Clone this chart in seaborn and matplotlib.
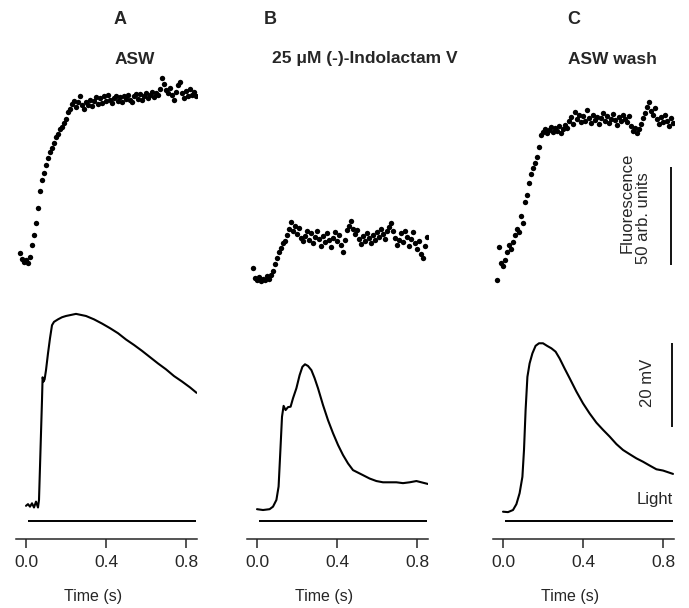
import numpy as np
import pandas as pd
import matplotlib
matplotlib.use("Agg")
import matplotlib.pyplot as plt
import seaborn as sns

# ---- data ----
panel_letters = ["A", "B", "C"]
panel_titles = ["ASW", "25 \u03bcM (-)-Indolactam V", "ASW wash"]

# fluorescence (arb. units), sampled every 10 ms from the start time
fluo_start = [-0.03, -0.02, -0.03]
fluo_a = [2.6, -0.5, -2.0, -1.0, -2.5, 0.5, 6.5, 11.5, 18.0, 25.5, 34.0, 40.0, 43.5,
          47.5, 51.0, 54.0, 56.0, 58.5, 61.5, 63.0, 66.0, 67.0, 69.0, 71.0, 74.5, 76.0,
          78.5, 80.0, 77.0, 79.5, 82.5, 78.0, 76.0, 79.5, 78.0, 80.5, 77.5, 80.0, 82.0,
          78.5, 81.5, 79.0, 82.5, 80.0, 83.0, 80.5, 79.0, 81.5, 82.5, 80.0, 82.0, 79.5,
          82.5, 81.0, 83.0, 80.5, 79.5, 82.5, 83.5, 81.0, 83.5, 80.5, 82.5, 84.0, 81.5,
          83.0, 84.5, 82.0, 84.0, 83.0, 86.0, 92.0, 88.5, 85.5, 84.0, 86.5, 83.0, 80.5,
          84.5, 88.0, 90.0, 84.0, 81.5, 85.0, 82.5, 86.0, 83.0, 84.5, 82.5]
fluo_b = [-5.0, -10.0, -11.5, -9.5, -12.0, -10.5, -11.0, -9.0, -10.5, -8.5, -6.5, -3.0,
          0.0, 3.0, 5.0, 7.5, 8.5, 11.5, 15.0, 18.5, 14.0, 16.5, 12.0, 15.5, 10.0, 8.5,
          11.0, 13.5, 9.0, 12.5, 7.5, 10.5, 14.0, 9.5, 6.0, 11.0, 8.0, 12.5, 9.0, 5.5,
          10.0, 13.0, 8.5, 11.5, 6.5, 3.0, 9.0, 14.5, 16.5, 19.0, 15.0, 12.0, 14.5, 9.5,
          7.0, 11.0, 8.5, 12.5, 10.0, 7.5, 11.5, 9.0, 13.0, 10.5, 15.0, 12.0, 9.5, 14.0,
          16.0, 18.0, 13.5, 10.0, 6.5, 9.0, 12.5, 8.0, 14.0, 10.5, 6.0, 9.5, 13.0, 7.5,
          4.5, 8.5, 2.0, 0.0, 6.0, 10.5]
fluo_c = [-11.0, 5.5, -2.5, -4.0, -1.0, 3.0, 6.5, 4.5, 8.0, 11.5, 15.0, 13.0, 21.5, 18.0,
          28.5, 32.0, 38.0, 43.0, 46.0, 48.5, 51.5, 56.5, 62.5, 64.5, 66.0, 63.5, 65.5,
          67.0, 64.5, 66.5, 65.0, 67.5, 64.0, 66.0, 68.0, 66.5, 70.0, 72.0, 68.5, 74.5,
          71.0, 73.0, 69.5, 72.5, 70.0, 75.5, 71.5, 69.0, 73.0, 70.5, 72.0, 68.5, 71.5,
          74.0, 70.0, 72.5, 69.0, 71.0, 73.5, 70.5, 68.0, 72.0, 70.0, 73.0, 71.0, 69.5,
          72.5, 67.5, 65.0, 66.5, 64.0, 66.0, 68.5, 71.5, 74.0, 77.0, 79.5, 75.0, 73.0,
          76.5, 71.0, 68.5, 72.0, 69.5, 73.0, 70.0, 67.5, 71.5, 69.0]

# membrane voltage (mV)
volt_t_a = [0.0, 0.01, 0.02, 0.03, 0.04, 0.05, 0.06, 0.065, 0.07, 0.075, 0.08, 0.083,
            0.088, 0.093, 0.1, 0.11, 0.12, 0.13, 0.14, 0.16, 0.18, 0.2, 0.22, 0.25, 0.28,
            0.3, 0.34, 0.38, 0.42, 0.46, 0.5, 0.54, 0.58, 0.62, 0.66, 0.7, 0.74, 0.78,
            0.82, 0.853]
volt_a = [-0.1, 0.3, -0.3, 0.5, -0.5, 0.9, -0.5, 1.3, 9.2, 17.2, 25.1, 30.5, 29.5, 30.0,
          32.2, 36.2, 39.8, 42.9, 43.7, 44.3, 44.8, 45.1, 45.3, 45.6, 45.3, 45.1, 44.3,
          43.3, 42.2, 41.0, 39.5, 38.2, 36.8, 35.3, 33.8, 32.4, 30.8, 29.5, 28.1, 26.8]
volt_t_b = [0.0, 0.03, 0.063, 0.08, 0.097, 0.108, 0.117, 0.125, 0.133, 0.143, 0.155,
            0.168, 0.18, 0.197, 0.213, 0.227, 0.24, 0.255, 0.272, 0.288, 0.305, 0.33,
            0.355, 0.38, 0.405, 0.43, 0.455, 0.48, 0.505, 0.53, 0.563, 0.597, 0.63, 0.663,
            0.697, 0.73, 0.763, 0.797, 0.83, 0.855]
volt_b = [-0.9, -1.1, -0.9, -0.3, 1.3, 4.5, 13.2, 21.1, 23.7, 22.7, 23.4, 23.5, 25.5,
          27.9, 31.0, 33.0, 33.6, 33.2, 32.2, 30.3, 27.9, 23.9, 20.3, 17.2, 14.4, 12.0,
          10.0, 8.4, 7.8, 7.2, 6.4, 5.8, 5.5, 5.5, 5.5, 5.3, 5.5, 5.8, 5.4, 5.1]
volt_t_c = [0.0, 0.025, 0.05, 0.067, 0.083, 0.097, 0.105, 0.113, 0.122, 0.133, 0.147,
            0.163, 0.18, 0.2, 0.22, 0.242, 0.263, 0.283, 0.308, 0.333, 0.367, 0.4, 0.433,
            0.467, 0.5, 0.533, 0.567, 0.6, 0.633, 0.667, 0.7, 0.733, 0.767, 0.8, 0.825,
            0.85]
volt_c = [-1.5, -1.6, -1.1, 0.3, 2.9, 6.8, 13.2, 22.7, 30.6, 33.8, 36.2, 38.0, 38.6,
          38.6, 38.0, 37.4, 36.6, 35.0, 32.6, 30.3, 27.1, 24.3, 21.9, 19.7, 18.0, 16.4,
          14.6, 13.2, 12.2, 11.2, 10.4, 9.5, 8.6, 8.3, 7.9, 7.5]

light_on, light_off = 0.01, 0.852
x_ticks = [0.0, 0.4, 0.8]
tick_labels = ["0.0", "0.4", "0.8"]

fluo_vals = [fluo_a, fluo_b, fluo_c]
volt_times = [volt_t_a, volt_t_b, volt_t_c]
volt_vals = [volt_a, volt_b, volt_c]

# ---- style ----
sns.set_style("ticks")
plt.rcParams["font.family"] = ["Liberation Sans", "DejaVu Sans"]

W, H = 689, 608
fig = plt.figure(figsize=(W / 100, H / 100), dpi=100)

zero_px = [26.0, 257.0, 503.0]     # pixel position of t=0 in each panel
xlim = (-0.048, 0.853)
px_per_s = 200.0
ax_bottom, ax_top = 539, 60

for i in range(3):
    left = zero_px[i] + xlim[0] * px_per_s
    width = (xlim[1] - xlim[0]) * px_per_s
    ax = fig.add_axes([left / W, (H - ax_bottom) / H, width / W, (ax_bottom - ax_top) / H])
    ax.set_xlim(*xlim)
    ax.set_ylim(-8.0, 106.05)
    ax2 = ax.twinx()
    ax2.set_ylim(-143.4, 101.0)

    # fluorescence dots
    t_f = fluo_start[i] + 0.01 * np.arange(len(fluo_vals[i]))
    df_f = pd.DataFrame({"t": t_f, "f": fluo_vals[i]})
    sns.scatterplot(data=df_f, x="t", y="f", ax=ax2, color="black", s=15,
                    linewidth=0, legend=False)

    # voltage trace
    df_v = pd.DataFrame({"t": volt_times[i], "v": volt_vals[i]})
    sns.lineplot(data=df_v, x="t", y="v", ax=ax, color="black", lw=1.5,
                 sort=False, estimator=None)

    # light bar
    ax.hlines(-3.7, light_on, light_off, color="black", lw=1.4)

    for s in ["top", "right", "left"]:
        ax.spines[s].set_visible(False)
    for s in ax2.spines.values():
        s.set_visible(False)
    ax.spines["bottom"].set_linewidth(1.1)
    ax.set_yticks([])
    ax2.set_yticks([])
    ax.set_ylabel("")
    ax2.set_ylabel("")
    ax.set_xticks(x_ticks)
    ax.set_xticklabels(tick_labels, fontsize=12.5)
    ax.tick_params(axis="x", direction="out", length=6.5, width=1.1, pad=5)
    ax.set_xlabel("Time (s)", fontsize=11.5)
    ax.xaxis.set_label_coords((zero_px[i] + 0.335 * px_per_s - left) / width,
                              -(596 - ax_bottom) / (ax_bottom - ax_top))
    ax.xaxis.label.set_va("center")

    if i == 2:
        # scale bars
        ax2.vlines(0.84, -3.6, 46.4, color="black", lw=1.3)
        ax.vlines(0.845, 18.7, 38.7, color="black", lw=1.3)
        ax2.text(0.62, 28.1, "Fluorescence", rotation=90, ha="center", va="center",
                 fontsize=12)
        ax2.text(0.70, 20.4, "50 arb. units", rotation=90, ha="center", va="center",
                 fontsize=12)
        ax.text(0.725, 29.1, "20 mV", rotation=90, ha="center", va="center", fontsize=12)
        ax.text(0.85, 1.3, "Light", ha="right", va="center", fontsize=12)

letter_px = [(120, 20), (270, 20), (574, 20)]
title_px = [(135, 59), (365, 59), (612, 59)]
for i in range(3):
    fig.text(letter_px[i][0] / W, 1 - letter_px[i][1] / H, panel_letters[i],
             ha="center", va="center", fontsize=13, fontweight="bold")
    fig.text(title_px[i][0] / W, 1 - title_px[i][1] / H, panel_titles[i],
             ha="center", va="center", fontsize=12.5, fontweight="bold")

fig.savefig("out.png", dpi=100)
